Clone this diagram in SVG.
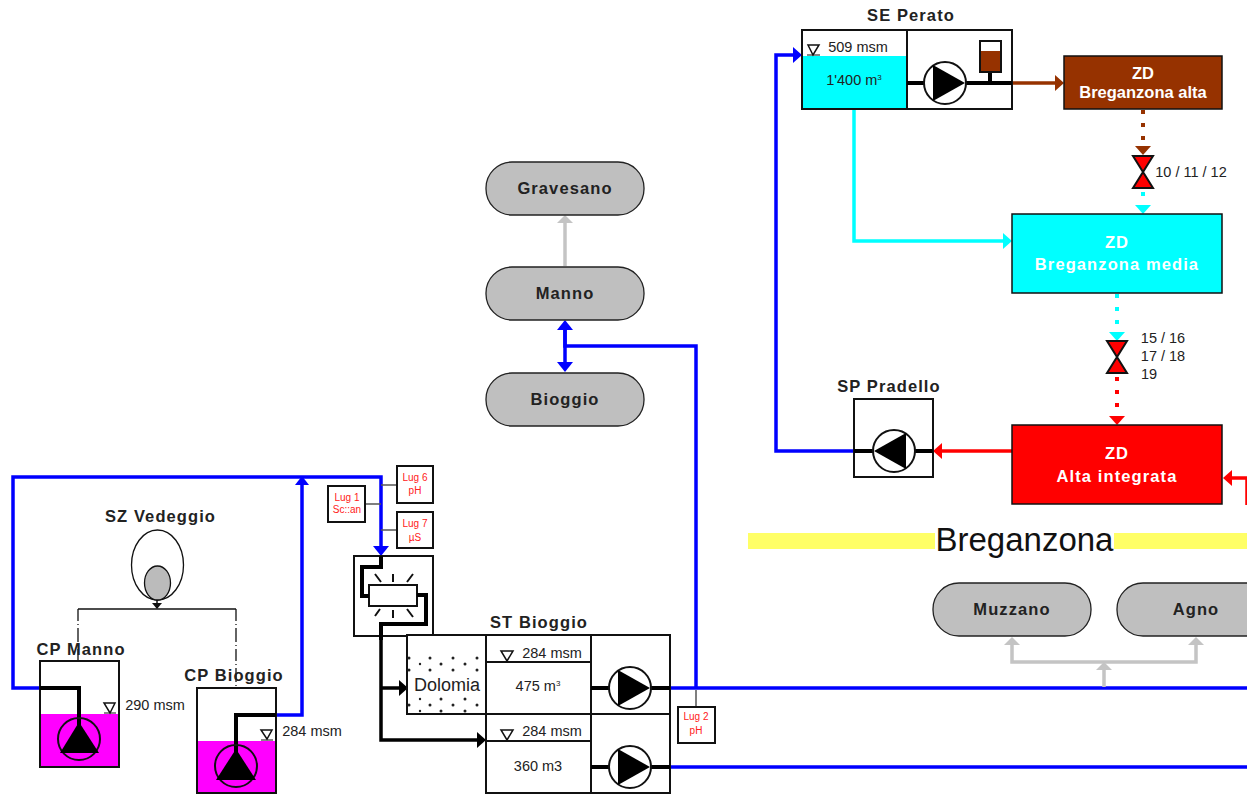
<svg xmlns="http://www.w3.org/2000/svg" width="1247" height="795" viewBox="0 0 1247 795">
<style>
text{font-family:"Liberation Sans",Arial,sans-serif;text-anchor:middle;fill:#222}
.t{font-size:16.500px;font-weight:bold;letter-spacing:1.100px}
.m{font-size:14.500px}
.w{font-size:16.500px;font-weight:bold;fill:#fff}
.ws{letter-spacing:1.100px}
.r{font-size:10px;fill:#ff2020}
.z{fill:#bfbfbf;stroke:#222;stroke-width:1.300}
.b{fill:#fff;stroke:#111;stroke-width:2}
.n{fill:none;stroke:#111;stroke-width:2}
.p{fill:none;stroke:#000;stroke-width:4}
.blue{fill:none;stroke:#0000ff;stroke-width:3.500}
.g{fill:none;stroke:#c4c4c4;stroke-width:3.500}
.pc{fill:#fff;stroke:#111;stroke-width:2}
.lv{fill:#fff;stroke:#111;stroke-width:1.500}
</style>
<g id="connectors">
<path class="blue" d="M40 688H13V477H381V548"/>
<path d="M373 546H389L381 556Z" fill="#00f"/>
<path class="blue" d="M276 715H302V484"/>
<path d="M295 485H309L302 476Z" fill="#00f"/>
<path class="blue" d="M670 688H1247"/>
<path class="blue" d="M670 767H1247"/>
<path class="blue" d="M696 688V346H565V330"/>
<path d="M557 330H573L565 320Z" fill="#00f"/>
<path d="M557 362H573L565 372Z" fill="#00f"/>
<path class="blue" stroke-width="4.500" d="M565 328V364"/>
<path class="g" d="M565 266V218"/>
<path d="M557 223H573L565 215Z" fill="#c4c4c4"/>
<path class="blue" d="M854 451H776V55H796"/>
<path d="M793 47V63L802 55Z" fill="#00f"/>
<path d="M854 109V241H1005" fill="none" stroke="#00ffff" stroke-width="3.500"/>
<path d="M1003 233V249L1012 241Z" fill="#00ffff"/>
<path d="M1012 83H1058" fill="none" stroke="#963200" stroke-width="3.500"/>
<path d="M1055 75V91L1064 83Z" fill="#963200"/>
<path d="M1143 110V146" fill="none" stroke="#963200" stroke-width="4" stroke-dasharray="4 9"/>
<path d="M1135 146H1151L1143 155Z" fill="#963200"/>
<path d="M1143 192V206" fill="none" stroke="#00ffff" stroke-width="4" stroke-dasharray="4 9"/>
<path d="M1135 205H1151L1143 214Z" fill="#00ffff"/>
<path d="M1117 294V332" fill="none" stroke="#00ffff" stroke-width="4" stroke-dasharray="4 9"/>
<path d="M1109 332H1125L1117 341Z" fill="#00ffff"/>
<path d="M1117 377V417" fill="none" stroke="#ff0000" stroke-width="4" stroke-dasharray="4 9"/>
<path d="M1109 416H1125L1117 425Z" fill="#ff0000"/>
<path d="M1012 451H940" fill="none" stroke="#f00" stroke-width="3.500"/>
<path d="M942 443V459L933 451Z" fill="#f00"/>
<path d="M1247 505V478H1230" fill="none" stroke="#f00" stroke-width="3.500"/>
<path d="M1232 470V486L1223 478Z" fill="#f00"/>
<path class="g" d="M1012 642V662H1196V642M1104 666V687"/>
<path d="M1004 645H1020L1012 637Z" fill="#c4c4c4"/>
<path d="M1188 645H1204L1196 637Z" fill="#c4c4c4"/>
<path d="M1096 670H1112L1104 662Z" fill="#c4c4c4"/>
<path d="M78 609H236" fill="none" stroke="#111" stroke-width="1.500"/>
<path d="M236 609V688" fill="none" stroke="#111" stroke-width="1.300" stroke-dasharray="12 3 1 3 14 3 1 3"/>
<path d="M78 609V661" fill="none" stroke="#111" stroke-width="1.300" stroke-dasharray="12 3 1 3 14 3 1 3"/>
<path d="M157 600V608" stroke="#111" stroke-width="1.500"/>
<path d="M152 603H162L157 609Z" fill="#111"/>
<path d="M381 570V740H478M381 688H399" fill="none" stroke="#000" stroke-width="3.500"/>
<path d="M399 680V696L408 688Z" fill="#000"/>
<path d="M477 732V748L486 740Z" fill="#000"/>
<path d="M366 504H381M381 485H397M381 530H397M696 690V707" fill="none" stroke="#555" stroke-width="1.500"/>
</g>
<g id="sz-vedeggio">
<text class="t" x="160.500" y="522">SZ Vedeggio</text>
<ellipse cx="157.500" cy="565" rx="26" ry="35" fill="#fff" stroke="#111" stroke-width="1.300"/>
<ellipse cx="157.500" cy="583" rx="13" ry="17" fill="#bbb" stroke="#111" stroke-width="1.300"/>
</g>
<g id="cp-manno">
<text class="t" x="81" y="655">CP Manno</text>
<rect x="40" y="661" width="79" height="106" class="b"/>
<rect x="41" y="714" width="77" height="52" fill="#ff00ff"/>
<path class="p" d="M40 688H79V725"/>
<circle cx="79" cy="739" r="21" fill="none" stroke="#111" stroke-width="2"/>
<path d="M79 722L99 753H60Z" fill="#000"/>
<path d="M104 703H115L110 713Z" class="lv"/>
<path d="M104 713H116" stroke="#111"/>
<text class="m" x="155" y="710">290 msm</text>
</g>
<g id="cp-bioggio">
<text class="t" x="234" y="681">CP Bioggio</text>
<rect x="197" y="688" width="79" height="105" class="b"/>
<rect x="198" y="741" width="77" height="51" fill="#ff00ff"/>
<path class="p" d="M276 715H236V752"/>
<circle cx="236" cy="766" r="21" fill="none" stroke="#111" stroke-width="2"/>
<path d="M236 749L256 780H216Z" fill="#000"/>
<path d="M261 730H272L267 739Z" class="lv"/>
<path d="M261 740H273" stroke="#111"/>
<text class="m" x="312" y="736">284 msm</text>
</g>
<g id="lug-1"><rect x="328" y="486" width="37" height="36" class="b" stroke-width="1.500"/><text class="r" x="347" y="501">Lug 1</text><text class="r" x="347" y="513">Sc::an</text></g>
<g id="lug-6"><rect x="397" y="466" width="36" height="37" class="b" stroke-width="1.500"/><text class="r" x="415" y="481">Lug 6</text><text class="r" x="415" y="494">pH</text></g>
<g id="lug-7"><rect x="397" y="512" width="36" height="36" class="b" stroke-width="1.500"/><text class="r" x="415" y="527">Lug 7</text><text class="r" x="415" y="541">µS</text></g>
<g id="uv">
<rect x="354" y="556" width="79" height="80" class="b"/>
<rect x="369" y="585" width="48" height="21" class="b"/>
<path class="p" stroke-width="3.500" d="M381 556V567H362V596H369M417 595H426V624H381V640"/>
<path class="n" d="M375 574L381 582M393 574V582M413 574L407 582M375 616L380 609M393 610V618M413 617L407 609"/>
</g>
<g id="st-bioggio">
<text class="t" x="539" y="628">ST Bioggio</text>
<rect x="407" y="635" width="263" height="79" class="b"/>
<rect x="486" y="714" width="184" height="79" class="b"/>
<path d="M486 635V793M591 635V793M486 662H591M486 741H591" class="n"/>
<g fill="#222">
<circle cx="409" cy="658" r="1.500"/><circle cx="430" cy="658" r="1.500"/><circle cx="453" cy="658" r="1.500"/><circle cx="477" cy="658" r="1.500"/>
<circle cx="420" cy="664" r="1.200"/><circle cx="441" cy="664" r="1.500"/><circle cx="465" cy="664" r="1.500"/>
<circle cx="409" cy="670" r="1.500"/><circle cx="430" cy="670" r="1.500"/><circle cx="453" cy="670" r="1.500"/><circle cx="477" cy="670" r="1.500"/>
<circle cx="420" cy="699" r="1.200"/><circle cx="441" cy="699" r="1.500"/><circle cx="465" cy="699" r="1.500"/>
<circle cx="409" cy="705" r="1.500"/><circle cx="430" cy="705" r="1.500"/><circle cx="453" cy="705" r="1.500"/><circle cx="477" cy="705" r="1.500"/>
<circle cx="420" cy="711" r="1.200"/><circle cx="441" cy="711" r="1.500"/><circle cx="465" cy="711" r="1.500"/>
</g>
<text x="447" y="691" font-size="18">Dolomia</text>
<path d="M501 651H513L507 661Z" class="lv"/>
<text class="m" x="552" y="658">284 msm</text>
<text class="m" x="538" y="691">475 m<tspan font-size="8" dy="-5">3</tspan></text>
<path d="M501 730H513L507 740Z" class="lv"/>
<text class="m" x="552" y="736">284 msm</text>
<text class="m" x="538" y="771">360 m3</text>
<path class="p" d="M591 688H610M650 688H670M591 767H610M650 767H670"/>
<circle cx="630" cy="688" r="21" class="pc"/><path d="M618 670L650 688L618 706Z" fill="#000"/>
<circle cx="630" cy="767" r="21" class="pc"/><path d="M618 749L650 767L618 785Z" fill="#000"/>
</g>
<g id="lug-2"><rect x="678" y="707" width="37" height="36" class="b" stroke-width="1.500"/><text class="r" x="696" y="720">Lug 2</text><text class="r" x="696" y="734">pH</text></g>
<g id="gravesano"><rect x="486" y="162" width="158" height="53" rx="26" class="z"/><text class="t" x="565" y="194">Gravesano</text></g>
<g id="manno"><rect x="486" y="267" width="158" height="53" rx="26" class="z"/><text class="t" x="565" y="299">Manno</text></g>
<g id="bioggio"><rect x="486" y="373" width="158" height="53" rx="26" class="z"/><text class="t" x="565" y="405">Bioggio</text></g>
<g id="se-perato">
<text class="t" x="911" y="21">SE Perato</text>
<rect x="802" y="30" width="210" height="79" class="b"/>
<rect x="803" y="56" width="103" height="52" fill="#00ffff"/>
<path class="n" d="M907 30V109"/>
<path d="M808 45H819L813 55Z" class="lv"/><path d="M807 55H820" stroke="#111"/>
<text class="m" x="858" y="52">509 msm</text>
<text class="m" x="854" y="85">1'400 m<tspan font-size="8" dy="-5">3</tspan></text>
<path class="p" d="M907 83H925M965 83H1012M990 72V83"/>
<circle cx="945" cy="83" r="21" class="pc"/><path d="M933 65L965 83L933 101Z" fill="#000"/>
<rect x="980" y="41" width="21" height="31" class="b"/>
<rect x="981" y="51" width="19" height="20" fill="#963200"/>
</g>
<g id="zd-alta"><rect x="1064" y="56" width="158" height="53" fill="#963200" stroke="#111" stroke-width="1.500"/><text class="w" x="1143" y="79">ZD</text><text class="w" x="1143" y="98">Breganzona alta</text></g>
<g id="valve-1"><path d="M1133 156H1153L1133 188H1153Z" fill="#f00" stroke="#111" stroke-width="2"/><text class="m" x="1191" y="177">10 / 11 / 12</text></g>
<g id="zd-media"><rect x="1012" y="214" width="210" height="79" fill="#00ffff" stroke="#111" stroke-width="1.500"/><text class="w ws" x="1117" y="248">ZD</text><text class="w ws" x="1117" y="270">Breganzona media</text></g>
<g id="valve-2"><path d="M1107 341H1127L1107 373H1127Z" fill="#f00" stroke="#111" stroke-width="2"/>
<text class="m" x="1163" y="343">15 / 16</text><text class="m" x="1163" y="361">17 / 18</text><text class="m" x="1149" y="379">19</text></g>
<g id="sp-pradello">
<text class="t" x="889" y="392">SP Pradello</text>
<rect x="854" y="399" width="79" height="78" class="b"/>
<path class="p" d="M854 451H873M913 451H933"/>
<circle cx="894" cy="451" r="21" class="pc"/><path d="M906 433L874 451L906 469Z" fill="#000"/>
</g>
<g id="zd-integrata"><rect x="1012" y="425" width="210" height="79" fill="#f00" stroke="#111" stroke-width="1.500"/><text class="w ws" x="1117" y="459">ZD</text><text class="w ws" x="1117" y="482">Alta integrata</text></g>
<g id="breganzona"><path d="M748 533H935V549H748ZM1114 533H1247V549H1114Z" fill="#ffff66"/><text x="1024.500" y="551" font-size="33" style="fill:#111">Breganzona</text></g>
<g id="muzzano"><rect x="933" y="583" width="158" height="53" rx="26" class="z"/><text class="t" x="1012" y="615">Muzzano</text></g>
<g id="agno"><rect x="1117" y="583" width="158" height="53" rx="26" class="z"/><text class="t" x="1196" y="615">Agno</text></g>
</svg>
